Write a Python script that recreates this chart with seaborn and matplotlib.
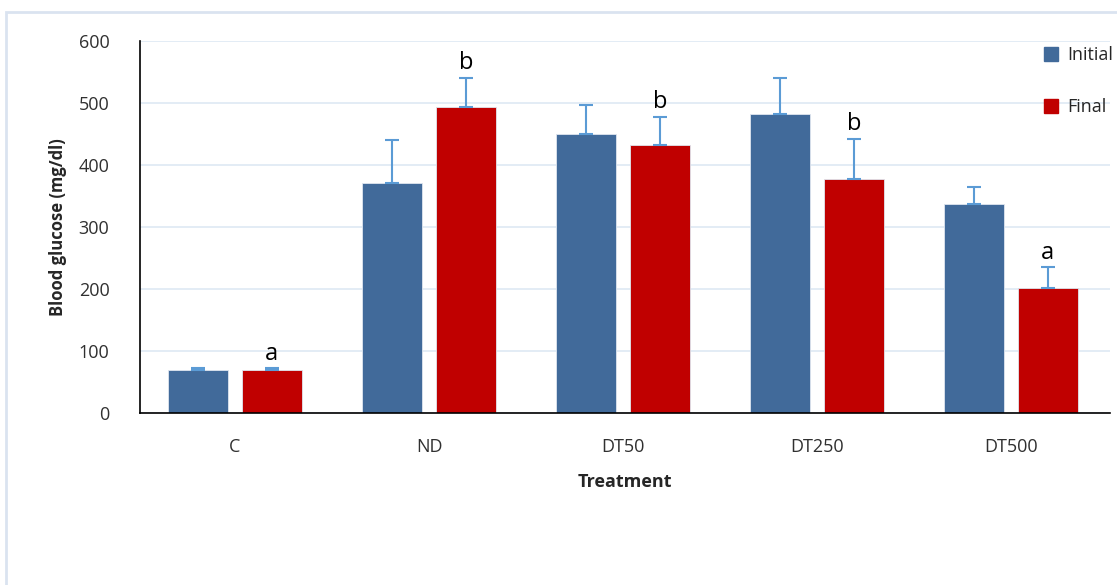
import numpy as np
import pandas as pd
import matplotlib
matplotlib.use("Agg")
import matplotlib.pyplot as plt
import seaborn as sns
from matplotlib.patches import Rectangle, Patch

# values
treatments = ["C", "ND", "DT50", "DT250", "DT500"]
initial = [69, 371, 450, 482, 337]
final = [69, 494, 432, 377, 202]
initial_err = [3, 70, 47, 58, 27]
final_err = [3, 46, 45, 65, 33]
letters = ["a", "b", "b", "b", "a"]

df = pd.DataFrame({
    "Treatment": treatments * 2,
    "glucose": initial + final,
    "time": ["Initial"] * 5 + ["Final"] * 5,
})

sns.set_style("white")
plt.rcParams["font.family"] = ["Open Sans", "DejaVu Sans"]

blue = "#416a9a"
red = "#c00000"
err_col = "#5b9bd5"

fig = plt.figure(figsize=(11.17, 5.85), dpi=100)
ax = fig.add_axes([0.1253, 0.294, 0.8684, 0.636])

sns.barplot(data=df, x="Treatment", y="glucose", hue="time",
            order=treatments, hue_order=["Initial", "Final"],
            palette=[blue, red], saturation=1, width=0.76, gap=0.19,
            errorbar=None, legend=False, ax=ax, zorder=2,
            edgecolor="#dfe6ef", linewidth=0.6)

# error bars (upper only) and significance letters
for cont, vals, errs in zip(ax.containers, [initial, final], [initial_err, final_err]):
    xs = [p.get_x() + p.get_width() / 2 for p in cont.patches]
    ax.errorbar(xs, vals, yerr=[np.zeros(len(vals)), errs], fmt="none",
                ecolor=err_col, elinewidth=1.5, capsize=5, capthick=1.5, zorder=3)
final_x = [p.get_x() + p.get_width() / 2 for p in ax.containers[1].patches]
for x, v, e, lab in zip(final_x, final, final_err, letters):
    ax.annotate(lab, (x, v + e), xytext=(0, 2), textcoords="offset points",
                ha="center", va="bottom", fontsize=17, color="black")

ax.set_ylim(0, 600)
ax.set_xlim(-0.49, 4.51)
ax.set_yticks(range(0, 601, 100))
ax.yaxis.grid(True, color="#e1eaf5", linewidth=1.3)
ax.set_axisbelow(True)
ax.tick_params(axis="both", length=0, labelsize=13, colors="#303030")
ax.tick_params(axis="x", pad=18)
ax.tick_params(axis="y", pad=22)
for s in ["top", "right"]:
    ax.spines[s].set_visible(False)
for s in ["left", "bottom"]:
    ax.spines[s].set_color("black")
    ax.spines[s].set_linewidth(1.2)

ax.set_xlabel("Treatment", fontsize=13, fontweight="bold", labelpad=12)
ax.set_ylabel("Blood glucose (mg/dl)", fontsize=12, fontweight="bold", labelpad=8)

handles = [Patch(color=blue, label="Initial"), Patch(color=red, label="Final")]
ax.legend(handles=handles, loc="upper left", bbox_to_anchor=(0.915, 1.03),
          frameon=False, fontsize=13, labelspacing=1.9, handlelength=0.8,
          handleheight=0.8, handletextpad=0.5)

# light chart border like the original
fig.patches.append(Rectangle((0.005, -0.05), 1.1, 1.03, transform=fig.transFigure,
                             fill=False, edgecolor="#dae3f0", linewidth=2))

fig.savefig("out.png", dpi=100)
